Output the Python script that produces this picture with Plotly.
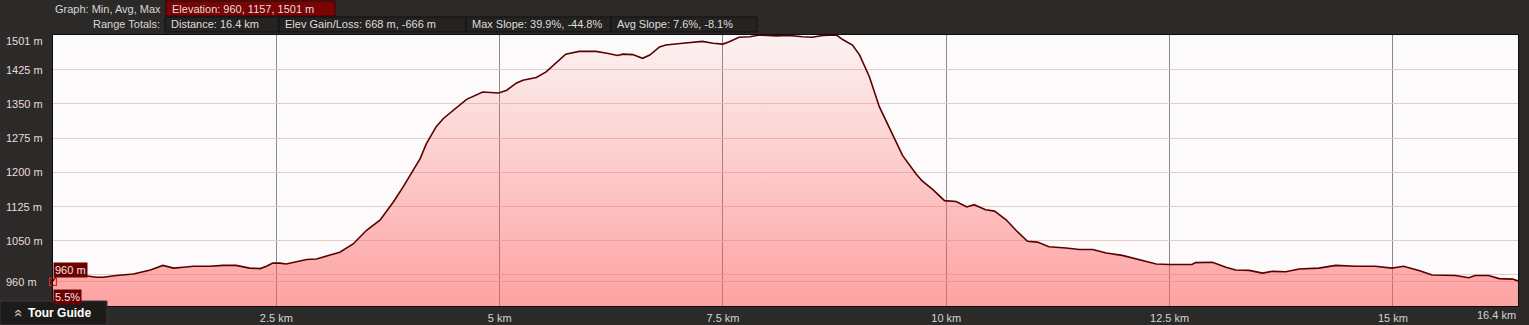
import plotly.graph_objects as go

# ---------------- data ----------------
distance_km = [0.00, 0.04, 0.34, 0.49, 0.56, 0.71, 0.90, 1.01, 1.09, 1.23, 1.35, 1.46, 1.57,
               1.76, 1.90, 2.05, 2.20, 2.32, 2.39, 2.46, 2.54, 2.61, 2.73, 2.84, 2.95, 3.06,
               3.21, 3.36, 3.51, 3.66, 3.81, 3.92, 4.03, 4.11, 4.18, 4.29, 4.37, 4.48, 4.63,
               4.81, 4.99, 5.08, 5.19, 5.26, 5.41, 5.52, 5.63, 5.74, 5.89, 6.08, 6.20, 6.32,
               6.38, 6.49, 6.60, 6.68, 6.79, 6.86, 7.05, 7.27, 7.39, 7.50, 7.57, 7.68, 7.80,
               7.91, 8.10, 8.24, 8.39, 8.50, 8.62, 8.77, 8.84, 8.95, 9.03, 9.14, 9.25, 9.36,
               9.51, 9.66, 9.73, 9.85, 9.98, 10.11, 10.23, 10.31, 10.44, 10.54, 10.67, 10.78,
               10.91, 11.02, 11.15, 11.34, 11.49, 11.64, 11.79, 11.97, 12.16, 12.35, 12.49,
               12.75, 12.79, 12.98, 13.13, 13.24, 13.39, 13.54, 13.65, 13.80, 13.95, 14.17,
               14.36, 14.58, 14.80, 14.99, 15.12, 15.29, 15.44, 15.58, 15.70, 15.85, 15.92,
               16.07, 16.19, 16.34, 16.40]
elevation_m = [962, 973, 974, 970, 970, 974, 977, 983, 986, 996, 990, 992, 994,
               994, 996, 996, 990, 989, 994, 1001, 1001, 999, 1005, 1009, 1010, 1016,
               1025, 1043, 1073, 1095, 1135, 1168, 1204, 1230, 1263, 1300, 1318, 1336, 1360,
               1376, 1374, 1380, 1396, 1402, 1408, 1420, 1439, 1459, 1465, 1465, 1461, 1456,
               1459, 1458, 1450, 1457, 1475, 1479, 1483, 1487, 1483, 1481, 1486, 1496, 1497,
               1501, 1499, 1500, 1497, 1496, 1500, 1501, 1491, 1479, 1457, 1409, 1344, 1300,
               1237, 1197, 1181, 1162, 1138, 1136, 1124, 1129, 1118, 1115, 1096, 1073,
               1049, 1047, 1037, 1034, 1031, 1031, 1023, 1018, 1008, 999, 998,
               998, 1002, 1003, 992, 986, 985, 979, 983, 982, 988, 990,
               996, 994, 994, 990, 994, 985, 975, 974, 974, 969, 974,
               974, 967, 966, 962]

y_grid_vals = [960, 975, 1050, 1125, 1200, 1275, 1350, 1425]
y_label_vals = [1501, 1425, 1350, 1275, 1200, 1125, 1050, 960]
x_tick_vals = [2.5, 5, 7.5, 10, 12.5, 15]
x_tick_text = ["2.5 km", "5 km", "7.5 km", "10 km", "12.5 km", "15 km"]
x_end_label = "16.4 km"
y_range = [907, 1501]
x_range = [0, 16.4]

header_row1_label = "Graph: Min, Avg, Max"
header_row1_items = ["Elevation: 960, 1157, 1501 m"]
header_row2_label = "Range Totals:"
header_row2_items = ["Distance: 16.4 km", "Elev Gain/Loss: 668 m, -666 m",
                     "Max Slope: 39.9%, -44.8%", "Avg Slope: 7.6%, -8.1%"]
cursor_km, cursor_elev = 0.0, 960
cursor_elev_text = "960 m"
cursor_slope_text = "5.5%"
tour_guide_text = "Tour Guide"

# ---------------- layout geometry ----------------
W, H = 1529, 325
L, R, T, B = 53, 11, 35, 19
PW, PH = W - L - R, H - T - B
BG = "#2c2a28"
FONT = "Liberation Sans, Arial, sans-serif"


def px(x):
    return (x - L) / PW


def py(y):
    return (H - B - y) / PH


fig = go.Figure()

fig.add_trace(go.Scatter(
    x=distance_km, y=elevation_m, mode="lines",
    line=dict(color="#5a0000", width=1.6),
    fill="tozeroy",
    fillgradient=dict(type="vertical",
                      colorscale=[[0, "rgba(255,90,90,0.55)"], [1, "rgba(255,90,90,0.05)"]],
                      start=y_range[0], stop=y_range[1]),
    hoverinfo="skip", showlegend=False,
))

fig.add_trace(go.Scatter(
    x=[cursor_km], y=[cursor_elev], mode="markers",
    marker=dict(symbol="square-open", size=7, color="#e02424", line=dict(width=1.2)),
    cliponaxis=False, hoverinfo="skip", showlegend=False,
))

shapes = []
annotations = []

# header rows
row1_edges = [166, 335]
row2_edges = [165, 279, 466, 611, 757]
rows = [
    (header_row1_label, header_row1_items, row1_edges, 1, 16, "#7a0303", "#3c0000"),
    (header_row2_label, header_row2_items, row2_edges, 17, 32, "#252321", "#111010"),
]
for label, items, edges, ytop, ybot, fillc, linec in rows:
    annotations.append(dict(
        xref="paper", yref="paper", x=px(edges[0] - 3), y=py((ytop + ybot) / 2),
        text=label, showarrow=False, xanchor="right", yanchor="middle",
        font=dict(family=FONT, size=11, color="#d6d6d6")))
    for i, item in enumerate(items):
        x0, x1 = edges[i], edges[i + 1]
        shapes.append(dict(type="rect", xref="paper", yref="paper",
                           x0=px(x0), x1=px(x1), y0=py(ybot), y1=py(ytop),
                           fillcolor=fillc, line=dict(color=linec, width=1), layer="above"))
        annotations.append(dict(
            xref="paper", yref="paper", x=px(x0 + 4), y=py((ytop + ybot) / 2),
            text=item, showarrow=False, xanchor="left", yanchor="middle",
            font=dict(family=FONT, size=11, color="#dedede")))

# y tick labels (left aligned)
for v in y_label_vals:
    annotations.append(dict(
        xref="paper", yref="y", x=px(4), y=v, yshift=-6 if v == y_range[1] else 0,
        text=f"{v} m", showarrow=False, xanchor="left", yanchor="middle",
        font=dict(family=FONT, size=11, color="#e8dcdc")))

# end distance label
annotations.append(dict(
    xref="x", yref="paper", x=x_range[1], y=py(315), text=x_end_label, showarrow=False,
    xanchor="right", yanchor="middle", font=dict(family=FONT, size=11, color="#d4d4d4")))

# cursor labels
annotations.append(dict(
    xref="paper", yref="paper", x=px(53), y=py(278), text=cursor_elev_text, showarrow=False,
    xanchor="left", yanchor="bottom", bgcolor="#6a0000", borderpad=1,
    font=dict(family=FONT, size=11, color="#f2e6e6")))
annotations.append(dict(
    xref="paper", yref="paper", x=px(53), y=py(289), text=cursor_slope_text, showarrow=False,
    xanchor="left", yanchor="top", bgcolor="#6a0000", borderpad=1,
    font=dict(family=FONT, size=11, color="#f2e6e6")))

# tour guide box
shapes.append(dict(type="rect", xref="paper", yref="paper",
                   x0=px(0), x1=px(107), y0=py(325), y1=py(301),
                   fillcolor="#1c1b1a", line=dict(color="#3a3938", width=1), layer="above"))
annotations.append(dict(
    xref="paper", yref="paper", x=px(17), y=py(313), text="»", textangle=-90,
    showarrow=False, xanchor="center", yanchor="middle",
    font=dict(family=FONT, size=14, color="#cfcfcf")))
annotations.append(dict(
    xref="paper", yref="paper", x=px(26), y=py(313), text=f"<b>{tour_guide_text}</b>",
    showarrow=False, xanchor="left", yanchor="middle",
    font=dict(family=FONT, size=12, color="#ffffff")))

fig.update_layout(
    width=W, height=H, autosize=False,
    margin=dict(l=L, r=R, t=T, b=B, pad=0, autoexpand=False),
    paper_bgcolor=BG, plot_bgcolor="#fcfafa",
    font=dict(family=FONT, size=11, color="#d4d4d4"),
    hovermode=False, showlegend=False,
    shapes=shapes, annotations=annotations,
    xaxis=dict(range=x_range, tickvals=x_tick_vals, ticktext=x_tick_text,
               showgrid=True, gridcolor="#8a8a8a", gridwidth=1, zeroline=False,
               ticks="", ticklabelstandoff=2, automargin=False,
               tickfont=dict(family=FONT, size=11, color="#d4d4d4"),
               showline=True, linecolor="#0c0c0c", linewidth=1, mirror=True, fixedrange=True),
    yaxis=dict(range=y_range, tickvals=y_grid_vals, showticklabels=False, automargin=False,
               showgrid=True, gridcolor="#e4cdc6", gridwidth=1, zeroline=False, ticks="",
               showline=True, linecolor="#0c0c0c", linewidth=1, mirror=True, fixedrange=True),
)

fig.write_html("out.html", config={"displayModeBar": False, "staticPlot": True})
